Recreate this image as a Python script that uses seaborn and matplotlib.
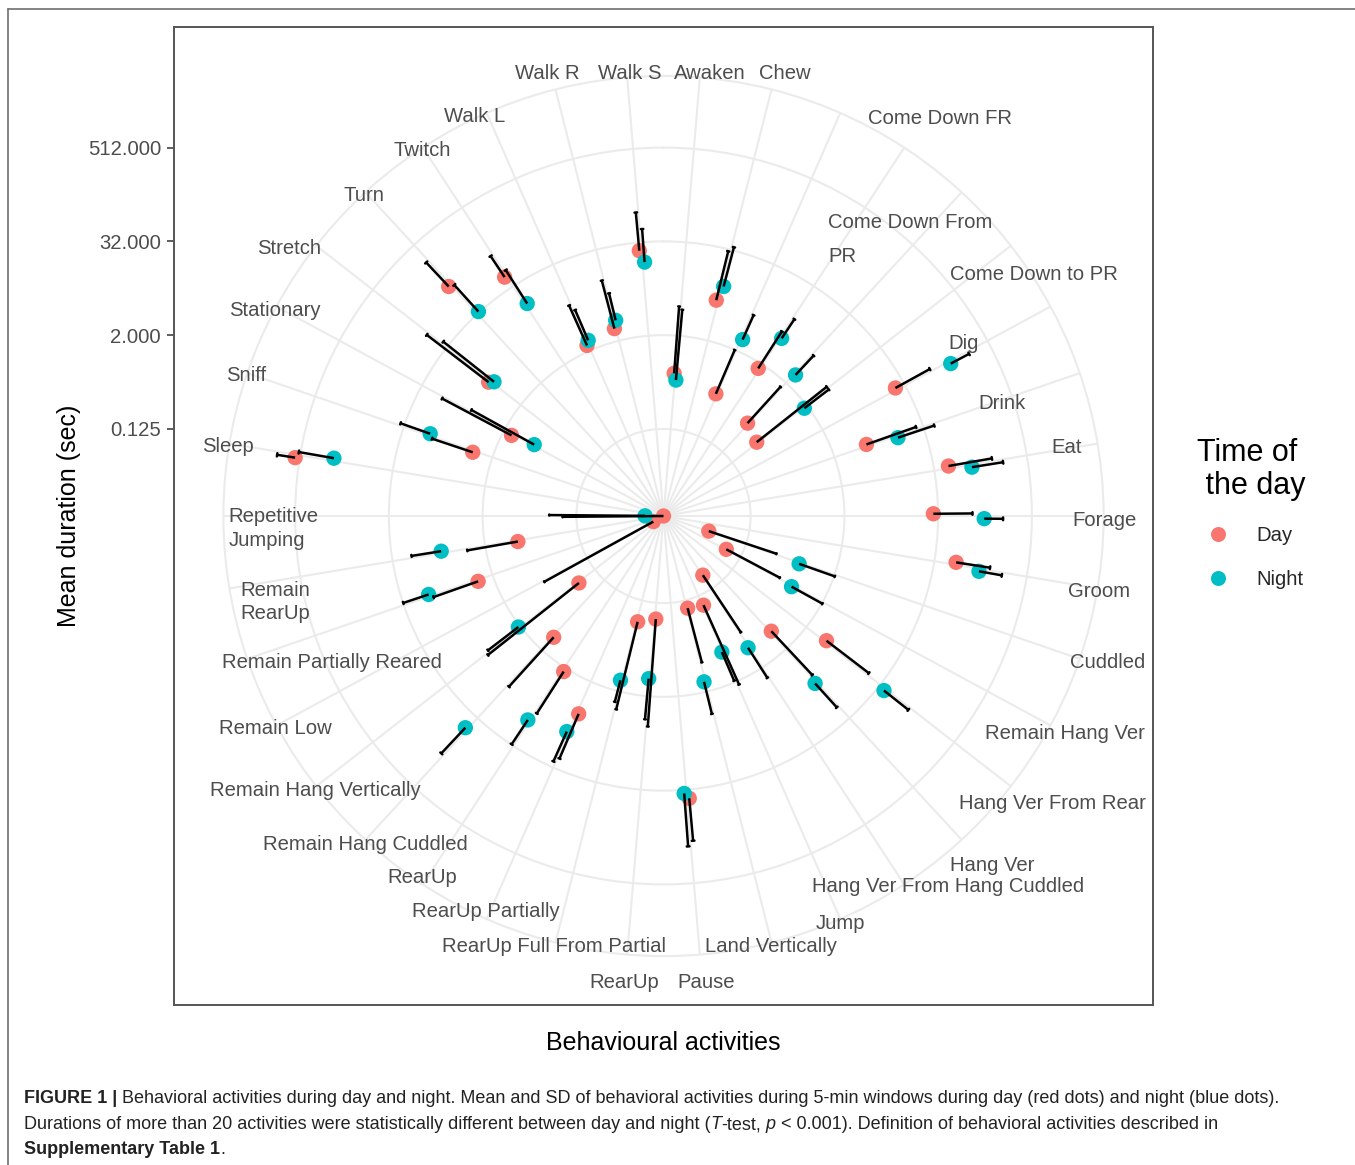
import numpy as np
import pandas as pd
import matplotlib
matplotlib.use("Agg")
import matplotlib.pyplot as plt
from matplotlib.lines import Line2D
import seaborn as sns

# ---------------------------------------------------------------------------
# Mean and SD (seconds) of each behavioural activity in 5-min windows
# ---------------------------------------------------------------------------
activities = [
    "Awaken", "Chew", "", "Come Down FR", "Come Down From PR", "Come Down to PR",
    "Dig", "Drink", "Eat", "Forage", "Groom", "Cuddled", "Remain Hang Ver",
    "Hang Ver From Rear", "Hang Ver", "Hang Ver From Hang Cuddled", "Jump",
    "Land Vertically", "Pause", "RearUp", "RearUp Full From Partial",
    "RearUp Partially", "RearUp", "Remain Hang Cuddled", "Remain Hang Vertically",
    "Remain Low", "Remain Partially Reared", "Remain RearUp", "Repetitive Jumping",
    "Sleep", "Sniff", "Stationary", "Stretch", "Turn", "Twitch", "Walk L",
    "Walk R", "Walk S",
]

day_mean = [0.654, 6.78, 0.484, 1.70, 0.386, 0.320, 24.0, 5.52, 49.4, 27.8,
            60.7, 0.039, 0.0778, 4.11, 1.01, 0.0776, 0.171, 0.159, 41.6, 0.202,
            0.238, 5.53, 2.25, 1.20, 0.231, 0.0134, 3.18, 0.753, 0.0095, 586.6,
            3.64, 1.54, 6.39, 103.5, 46.0, 2.39, 2.92, 25.1]
day_sd = [4.10, 23.3, 1.50, 4.52, 1.26, 4.16, 52.6, 20.6, 132.6, 60.7,
          107.0, 0.283, 0.389, 15.8, 4.95, 0.514, 2.07, 0.676, 105.0, 4.69,
          3.19, 17.8, 7.55, 7.41, 6.92, 0.52, 9.7, 2.69, 0.179, 419.0,
          9.3, 14.2, 57.6, 170.7, 51.2, 6.35, 9.8, 52.9]
night_mean = [0.538, 10.6, 2.89, 5.22, 2.88, 1.80, 142.6, 14.2, 97.5, 125.0,
              123.5, 0.668, 0.718, 38.9, 7.56, 0.973, 0.758, 1.48, 35.6, 1.19,
              1.44, 10.3, 13.3, 50.4, 2.11, np.nan, 14.4, 7.39, 0.0164, 188.7,
              14.3, 0.749, 5.68, 33.1, 16.6, 2.71, 3.67, 17.7]
night_sd = [3.81, 24.6, 3.50, 5.10, 3.42, 2.68, 121.0, 29.9, 150.0, 93.6,
            121.7, 1.38, 1.32, 58.6, 12.1, 1.83, 1.15, 2.45, 135.5, 2.79,
            1.35, 16.8, 18.3, 92.2, 4.46, np.nan, 17.4, 10.6, 0.263, 352.8,
            21.9, 5.51, 32.8, 62.7, 37.2, 4.49, 4.69, 29.5]

r_breaks = [0.125, 2, 32, 512]
r_break_labels = ["0.125", "2.000", "32.000", "512.000"]
time_levels = ["Day", "Night"]
time_colors = {"Day": "#F8766D", "Night": "#00BFC4"}

# category labels around the circle: text, x, y (centre, px), alignment
label_layout = [
    ("Walk R", 547, 71.7, "center"), ("Walk S", 629.5, 71.7, "center"),
    ("Awaken", 710, 71.7, "center"), ("Chew", 785, 71.7, "center"),
    ("Walk L", 475, 114.5, "center"), ("Twitch", 422.5, 148.3, "center"),
    ("Turn", 364.5, 193.3, "center"), ("Stretch", 288.7, 246.7, "center"),
    ("Stationary", 275.2, 308.3, "center"), ("Sniff", 246.3, 374, "center"),
    ("Sleep", 228, 445, "center"),
    ("Repetitive", 228.3, 515, "left"), ("Jumping", 228.3, 538.3, "left"),
    ("Remain", 240, 588.3, "left"), ("RearUp", 240, 611.7, "left"),
    ("Remain Partially Reared", 331.7, 660.7, "center"),
    ("Remain Low", 275, 726.7, "center"),
    ("Remain Hang Vertically", 315, 788.3, "center"),
    ("Remain Hang Cuddled", 365, 842.7, "center"),
    ("RearUp", 422, 876, "center"), ("RearUp Partially", 485.8, 910, "center"),
    ("RearUp Full From Partial", 554.5, 945, "center"),
    ("RearUp", 624.7, 980.7, "center"), ("Pause", 706, 980.7, "center"),
    ("Land Vertically", 771, 945, "center"), ("Jump", 840, 921.7, "center"),
    ("Hang Ver From Hang Cuddled", 948.3, 885, "center"),
    ("Hang Ver", 991.7, 863.3, "center"),
    ("Hang Ver From Rear", 1052, 801.7, "center"),
    ("Remain Hang Ver", 1065, 731.7, "center"),
    ("Cuddled", 1108, 660.7, "center"), ("Groom", 1098.7, 590, "center"),
    ("Forage", 1104.7, 518.3, "center"), ("Eat", 1067, 446, "center"),
    ("Drink", 1002.5, 401.7, "center"), ("Dig", 964, 341.7, "center"),
    ("Come Down to PR", 1033.7, 272.7, "center"),
    ("Come Down From", 910.5, 220.7, "center"), ("PR", 828, 255, "left"),
    ("Come Down FR", 939.5, 117, "center"),
]

# ---------------------------------------------------------------------------
sns.set_theme(style="white")
plt.rcParams["font.family"] = ["Liberation Sans", "DejaVu Sans"]

W, H = 1355, 1165
fig = plt.figure(figsize=(W / 100, H / 100), dpi=100)
fig.patch.set_facecolor("white")


def fx(x):
    return x / W


def fy(y):
    return 1 - y / H


FS_PT = 14.6                     # tick / category label size
FS_PX = FS_PT * 100 / 72

# panel box and the polar plotting area (0.45 of the panel around its centre)
pl, pt, pw, ph = 174, 27, 979, 978
panel = [fx(pl), fy(pt + ph), pw / W, ph / H]
frame = fig.add_axes(panel)
cxf, cyf = panel[0] + panel[2] / 2, panel[1] + panel[3] / 2
ax = fig.add_axes([cxf - 0.45 * panel[2], cyf - 0.45 * panel[3],
                   0.9 * panel[2], 0.9 * panel[3]], projection="polar")

# long-format table
n = len(activities)
pos = np.arange(n)
df = pd.DataFrame({
    "activity": activities * 2,
    "pos": np.concatenate([pos, pos]),
    "time": np.repeat(time_levels, n),
    "mean": day_mean + night_mean,
    "sd": day_sd + night_sd,
})
df["upper"] = df["mean"] + df["sd"]
step = 2 * np.pi / n
dodge = {"Day": -0.05, "Night": 0.05}
df["theta"] = (df["pos"] + 0.5 + df["time"].map(dodge)) * step
df["r"] = np.log2(df["mean"])
df["r_up"] = np.log2(df["upper"])

lo = np.nanmin(df["r"])
hi = np.nanmax(df["r_up"])
span = hi - lo

# polar scales and grid
ax.set_theta_zero_location("N")
ax.set_theta_direction(-1)
ax.set_ylim(lo, lo + span * 0.45 / 0.4)
ax.set_xticks((pos + 0.5) * step)
ax.set_xticklabels([])
ax.set_yticks(np.log2(r_breaks))
ax.set_yticklabels([])
ax.tick_params(length=0)
ax.grid(True, color="#EBEBEB", lw=1.5)
ax.spines["polar"].set_color("#EBEBEB")
ax.spines["polar"].set_linewidth(1.5)
ax.set_axisbelow(True)
ax.set_facecolor("none")

# points
sns.scatterplot(data=df, x="theta", y="r", hue="time", hue_order=time_levels,
                palette=time_colors, s=122, linewidth=0, alpha=1,
                legend=False, ax=ax, zorder=3)
ax.set_xlabel("")
ax.set_ylabel("")

# error bars: mean -> mean + SD with a small cap
cap = 0.025 * step
for _, row in df.dropna(subset=["r"]).iterrows():
    ax.plot([row.theta, row.theta], [row.r, row.r_up], color="black",
            lw=1.8, solid_capstyle="butt", zorder=4)
    ax.plot([row.theta - cap, row.theta + cap], [row.r_up, row.r_up],
            color="black", lw=1.8, zorder=4)

# panel frame with the radial axis on its left side
frame.set_ylim(lo - 1.25 * span, lo + 1.25 * span)
frame.set_xlim(0, 1)
frame.set_xticks([])
frame.set_yticks(np.log2(r_breaks))
frame.set_yticklabels(r_break_labels, fontsize=FS_PT, color="#4D4D4D")
frame.tick_params(axis="y", length=5, width=1.1, color="#333333", pad=4.3,
                  left=True)
for sp in frame.spines.values():
    sp.set_color("#555555")
    sp.set_linewidth(1.4)
frame.set_facecolor("white")
frame.set_ylabel("Mean duration (sec)", fontsize=18, color="black")
frame.yaxis.set_label_coords((81 - pl) / pw, 0.5)
frame.set_xlabel("Behavioural activities", fontsize=18, color="black")
frame.xaxis.set_label_coords(0.5, -(1031 - (pt + ph)) / ph)

# category labels
for text, x, y, ha in label_layout:
    fig.text(fx(x), fy(y + 0.36 * FS_PX), text, ha=ha, va="baseline",
             fontsize=FS_PT, color="#4D4D4D")

# legend: title lines, then the two keys
TITLE_PT = 22
TITLE_PX = TITLE_PT * 100 / 72
for line, yc in (("Time of", 450), (" the day", 483.3)):
    fig.text(fx(1196.7), fy(yc + 0.36 * TITLE_PX), line, ha="left",
             va="baseline", fontsize=TITLE_PT, color="black")
handles = [Line2D([], [], marker="o", ls="", color=time_colors[t],
                  markersize=10.8, markeredgewidth=0) for t in time_levels]
leg = fig.legend(handles, time_levels, loc="upper left",
                 bbox_to_anchor=(fx(1196.7), fy(526)),
                 frameon=False, fontsize=FS_PT, borderpad=0, borderaxespad=0,
                 handlelength=2.13, handletextpad=0.82, labelspacing=1.23)

# outer figure rule
fig.add_artist(Line2D([fx(8), 1], [fy(9), fy(9)], transform=fig.transFigure,
                      color="#6E6E6E", lw=1.2))
fig.add_artist(Line2D([fx(8), fx(8)], [fy(9), 0], transform=fig.transFigure,
                      color="#6E6E6E", lw=1.2))

# caption
CAP_PT = 13.0
CAP_PX = CAP_PT * 100 / 72
cap_color = "#222222"
caption = [
    (1097, [("FIGURE 1 |", "bold", "normal"),
            (" Behavioral activities during day and night. Mean and SD of "
             "behavioral activities during 5-min windows during day (red dots) "
             "and night (blue dots).", "normal", "normal")]),
    (1123, [("Durations of more than 20 activities were statistically different "
             "between day and night (", "normal", "normal"),
            ("T", "normal", "italic"), ("-test,", "normal", "normal"),
            (" p", "normal", "italic"),
            (" < 0.001). Definition of behavioral activities described in",
             "normal", "normal")]),
    (1148, [("Supplementary Table 1", "bold", "normal"),
            (".", "normal", "normal")]),
]
for yc, pieces in caption:
    prev = None
    for text, weight, style in pieces:
        kw = dict(fontsize=CAP_PT, fontweight=weight, fontstyle=style,
                  color=cap_color, ha="left", va="bottom")
        if prev is None:
            prev = fig.text(fx(24), fy(yc + 0.57 * CAP_PX), text, **kw)
        else:
            prev = frame.annotate(text, xy=(1, 0), xycoords=prev,
                                  annotation_clip=False, **kw)

fig.savefig("out.png", dpi=100, facecolor="white")
